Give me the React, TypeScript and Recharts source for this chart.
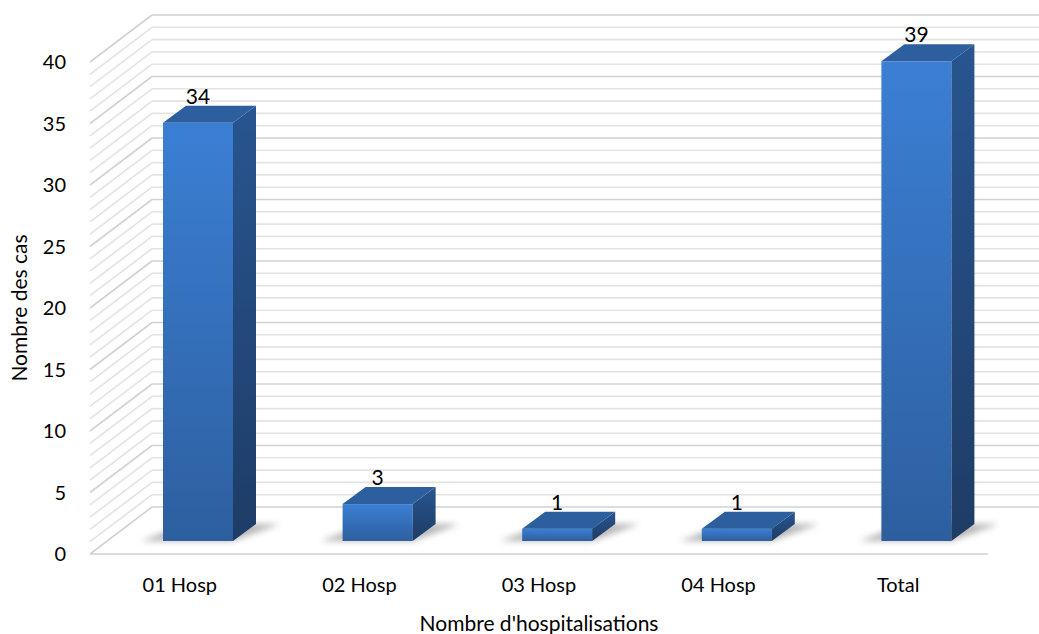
import { BarChart, Bar, XAxis, YAxis, CartesianGrid, LabelList } from 'recharts'

const categories = ['01 Hosp', '02 Hosp', '03 Hosp', '04 Hosp', 'Total']
const cases = [34, 3, 1, 1, 39]
const yTicks = [0, 5, 10, 15, 20, 25, 30, 35, 40]
const yMax = 40

const data = categories.map((name, i) => ({ name, cases: cases[i] }))
// one gridline per unit on the back wall
const gridValues = Array.from({ length: yMax + 1 }, (_, i) => i)

// 3d depth offsets (px)
const WALL_DX = 62
const WALL_DY = 47
const BAR_DX = 18
const BAR_DY = 13
const BAR_DEPTH_X = 23
const BAR_DEPTH_Y = 17

const FONT = 'Lato, "Open Sans", sans-serif'

function gridCoords({ yAxis, offset }: any) {
  return gridValues.map((v) =>
    yAxis && typeof yAxis.scale === 'function'
      ? yAxis.scale(v)
      : offset.top + offset.height * (1 - v / yMax)
  )
}

function GridLine(props: any) {
  const { x1, y1, x2, index } = props
  const major = index % 5 === 0
  const stroke = major ? '#d2d2d2' : '#e3e3e3'
  return (
    <g key={`g-${index}`}>
      <line x1={x1} y1={y1} x2={x1 + WALL_DX} y2={y1 - WALL_DY} stroke={stroke} strokeWidth={1.6} />
      <line x1={x1 + WALL_DX} y1={y1 - WALL_DY} x2={x2 + WALL_DX} y2={y1 - WALL_DY} stroke={stroke} strokeWidth={1.6} />
    </g>
  )
}

function Bar3D(props: any) {
  const { x, y, width, height } = props
  const fx = x + BAR_DX
  const fy = y - BAR_DY
  const base = fy + height
  const dx = BAR_DEPTH_X
  const dy = BAR_DEPTH_Y
  return (
    <g>
      <polygon
        points={`${fx - 22},${base} ${fx + width},${base} ${fx + width + dx + 24},${base - dy} ${fx + dx},${base - dy}`}
        fill="#7a7a7a"
        opacity={0.55}
        filter="url(#shadowBlur)"
      />
      <rect x={fx} y={fy} width={width} height={height} fill="url(#frontGrad)" />
      <polygon
        points={`${fx + width},${fy} ${fx + width + dx},${fy - dy} ${fx + width + dx},${base - dy} ${fx + width},${base}`}
        fill="url(#sideGrad)"
      />
      <polygon
        points={`${fx},${fy} ${fx + width},${fy} ${fx + width + dx},${fy - dy} ${fx + dx},${fy - dy}`}
        fill="#2d5f9f"
      />
    </g>
  )
}

function ValueLabel(props: any) {
  const { x, y, width, value } = props
  return (
    <text x={x + BAR_DX + width / 2} y={y - 32} textAnchor="middle" fill="#000" fontSize={21} fontFamily={FONT}>
      {value}
    </text>
  )
}

export default function App() {
  return (
    <div style={{ position: 'absolute', left: 0, top: 0, background: '#fff' }}>
      <style>{'body{margin:0;background:#fff}'}</style>
      <BarChart
        width={1039}
        height={634}
        data={data}
        margin={{ top: 62, right: 51, bottom: 0, left: 30 }}
        barSize={70}
        style={{ fontFamily: FONT }}
      >
        <defs>
          <linearGradient id="frontGrad" x1="0" y1="0" x2="0" y2="1">
            <stop offset="0%" stopColor="#3b7fd4" />
            <stop offset="100%" stopColor="#2d5f9f" />
          </linearGradient>
          <linearGradient id="sideGrad" x1="0" y1="0" x2="0" y2="1">
            <stop offset="0%" stopColor="#285590" />
            <stop offset="100%" stopColor="#1e3c66" />
          </linearGradient>
          <filter id="shadowBlur" x="-50%" y="-50%" width="200%" height="200%">
            <feGaussianBlur stdDeviation="3" />
          </filter>
        </defs>
        <CartesianGrid vertical={false} horizontalCoordinatesGenerator={gridCoords} horizontal={GridLine} />
        <XAxis
          dataKey="name"
          height={80}
          tickLine={false}
          tickSize={0}
          tickMargin={24}
          axisLine={{ stroke: '#d2d2d2', strokeWidth: 1.6 }}
          tick={{ fill: '#000', fontSize: 20, fontFamily: FONT }}
          label={{
            value: "Nombre d'hospitalisations",
            position: 'insideBottom',
            offset: 3,
            fill: '#000',
            fontSize: 21,
            fontFamily: FONT,
          }}
        />
        <YAxis
          domain={[0, yMax]}
          ticks={yTicks}
          width={60}
          tickLine={false}
          tickSize={0}
          tickMargin={24}
          axisLine={false}
          tick={{ fill: '#000', fontSize: 20, fontFamily: FONT }}
          label={{
            value: 'Nombre des cas',
            angle: -90,
            position: 'insideLeft',
            offset: -10,
            fill: '#000',
            fontSize: 21,
            fontFamily: FONT,
            style: { textAnchor: 'middle' },
          }}
        />
        <Bar dataKey="cases" shape={<Bar3D />} isAnimationActive={false}>
          <LabelList dataKey="cases" content={<ValueLabel />} />
        </Bar>
      </BarChart>
    </div>
  )
}
